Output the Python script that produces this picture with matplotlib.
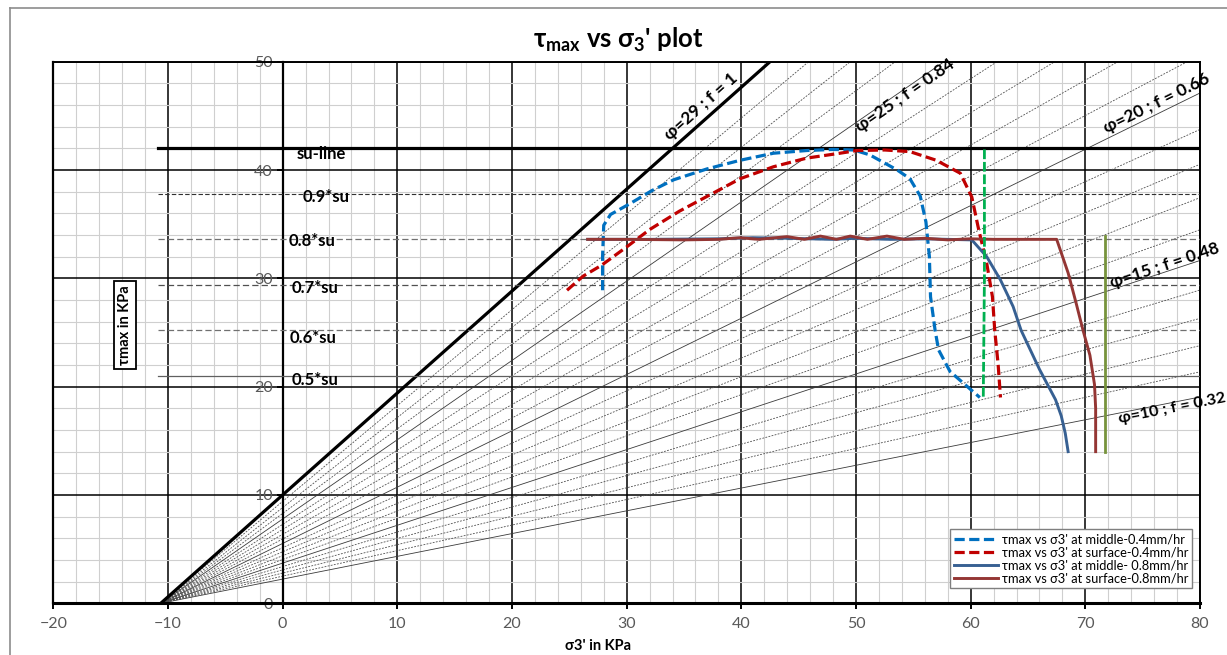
import numpy as np
import matplotlib
matplotlib.use("Agg")
import matplotlib.pyplot as plt
from matplotlib.lines import Line2D

plt.rcParams['font.family'] = ['Lato', 'DejaVu Sans']
plt.rcParams['mathtext.fontset'] = 'custom'
plt.rcParams['mathtext.rm'] = 'Lato'
plt.rcParams['mathtext.bf'] = 'Lato:bold'

# ---------------- data ----------------
su = 42.0
su_fractions = [1.0, 0.9, 0.8, 0.7, 0.6, 0.5]
su_labels = ["su-line", "0.9*su", "0.8*su", "0.7*su", "0.6*su", "0.5*su"]

# friction-angle fan (degrees) and apparent-cohesion intercept on the sigma axis
phi_values = list(range(10, 30))
fan_origin = -10.63
phi_labels = {29: "φ=29 ; f = 1", 25: "φ=25 ; f = 0.84", 20: "φ=20 ; f = 0.66",
              15: "φ=15 ; f = 0.48", 10: "φ=10 ; f = 0.32"}

# tau_max vs sigma3' at middle, 0.4 mm/hr
mid04_x = [27.9, 27.9, 28.0, 28.6, 30.3, 32.2, 34.1, 37.0, 39.9, 42.8, 45.7, 48.0,
           49.8, 51.2, 52.4, 53.6, 54.7, 55.6, 56.1, 56.4, 56.5, 56.9, 57.2, 58.2, 59.5, 60.8]
mid04_y = [28.9, 32.0, 34.9, 35.9, 36.9, 38.1, 39.1, 40.1, 40.9, 41.55, 41.8, 41.9,
           41.85, 41.4, 40.7, 40.0, 39.2, 37.6, 35.2, 32.0, 28.3, 25.2, 23.4, 21.4, 20.2, 19.0]

# tau_max vs sigma3' at surface, 0.4 mm/hr
sur04_x = [24.8, 26.2, 27.8, 30.0, 32.0, 34.6, 37.6, 39.9, 42.8, 45.7, 48.6, 50.1,
           52.5, 54.7, 57.0, 59.1, 60.1, 60.7, 61.4, 61.9, 62.1, 62.4, 62.6]
sur04_y = [28.9, 30.2, 31.2, 32.9, 34.5, 36.2, 37.9, 39.2, 40.3, 41.1, 41.55, 41.8,
           41.85, 41.7, 40.9, 39.7, 37.5, 34.5, 31.4, 28.3, 25.2, 22.0, 19.0]

# tau_max vs sigma3' at middle, 0.8 mm/hr
mid08_x = [26.6, 32.0, 38.0, 41.0, 44.0, 48.0, 50.0, 53.0, 56.0, 58.0, 60.1, 61.4,
           62.6, 63.7, 64.4, 65.2, 66.0, 66.8, 67.4, 67.9, 68.25, 68.5]
mid08_y = [33.6, 33.6, 33.65, 33.75, 33.7, 33.6, 33.7, 33.6, 33.65, 33.6, 33.55, 32.0,
           29.85, 27.4, 25.2, 23.4, 21.6, 20.0, 18.8, 17.3, 15.7, 14.0]

# tau_max vs sigma3' at surface, 0.8 mm/hr
sur08_x = [26.6, 30.0, 35.0, 38.0, 39.9, 41.5, 44.0, 45.5, 46.9, 48.3, 49.5, 51.0,
           52.7, 54.2, 56.0, 58.0, 60.0, 62.0, 64.0, 66.0, 67.5, 68.5, 69.2, 69.8,
           70.4, 70.8, 70.9, 70.9]
sur08_y = [33.6, 33.6, 33.55, 33.6, 33.75, 33.6, 33.85, 33.6, 33.9, 33.6, 33.9, 33.6,
           33.9, 33.6, 33.7, 33.55, 33.65, 33.6, 33.6, 33.6, 33.6, 30.5, 27.7, 25.2,
           22.9, 20.2, 18.0, 14.0]

# vertical marker lines
green_x = [61.2, 61.2, 61.1]
green_y = [41.9, 30.0, 19.0]
olive_x = [71.7, 71.7]
olive_y = [33.9, 13.95]

series_labels = ["τmax vs σ3' at middle-0.4mm/hr", "τmax vs σ3' at surface-0.4mm/hr",
                 "τmax vs σ3' at middle- 0.8mm/hr", "τmax vs σ3' at surface-0.8mm/hr"]

x_ticks = list(range(-20, 81, 10))
y_ticks = list(range(0, 51, 10))

# ---------------- figure ----------------
W, H = 1227, 655
fig = plt.figure(figsize=(W / 100, H / 100), dpi=100)
ax = fig.add_axes([53.3 / W, (H - 603.3) / H, (1200 - 53.3) / W, (603.3 - 61.7) / H])
ax.set_xlim(-20, 80)
ax.set_ylim(0, 50)

# outer chart-area frame
fig.add_artist(Line2D([10 / W, 10 / W], [0, 1 - 8 / H], color='#8c8c8c', lw=1.2))
fig.add_artist(Line2D([10 / W, 1], [1 - 8 / H, 1 - 8 / H], color='#8c8c8c', lw=1.2))

# grid
ax.set_xticks(x_ticks)
ax.set_yticks(y_ticks)
ax.set_xticks(np.arange(-20, 81, 2), minor=True)
ax.set_yticks(np.arange(0, 51, 2), minor=True)
ax.set_axisbelow(True)
ax.grid(which='minor', color='#cfcfcf', lw=0.8)
ax.grid(which='major', color='black', lw=1.1)
ax.axvline(-20, color='black', lw=1.6, clip_on=False, zorder=1)

ax.spines['left'].set_position(('data', 0))
ax.spines['left'].set_linewidth(1.6)
ax.spines['bottom'].set_linewidth(2.2)
ax.spines['top'].set_linewidth(1.4)
ax.spines['right'].set_linewidth(1.4)
ax.tick_params(which='minor', length=0)
ax.tick_params(which='major', direction='out', length=4, width=1.4, colors='black',
               labelcolor='#595959', labelsize=11.5)
ax.tick_params(axis='x', pad=6)
ax.tick_params(axis='y', pad=3)

# friction-angle fan
xs = np.array([fan_origin, 80.0])
for phi in phi_values:
    s = np.sin(np.radians(phi))
    slope = s / (1 - s)
    ys = slope * (xs - fan_origin)
    if phi == 29:
        ax.plot(xs, ys, color='black', lw=2.3, zorder=3)
    elif phi % 5 == 0:
        ax.plot(xs, ys, color='#3a3a3a', lw=0.6, zorder=2)
    else:
        ax.plot(xs, ys, color='#505050', lw=0.6, dashes=(2.2, 1.6), zorder=2)

label_pos = {29: (36.5, 45.9), 25: (54.3, 46.9), 20: (76.2, 46.2), 15: (76.9, 31.2), 10: (77.55, 17.95)}
label_size = {29: 12.5, 25: 12.5, 20: 12.5, 15: 12.3, 10: 11.8}
for phi, txt in phi_labels.items():
    s = np.sin(np.radians(phi))
    ang = np.degrees(np.arctan(s / (1 - s)))
    px, py = label_pos[phi]
    ax.text(px, py, txt, rotation=ang, transform_rotates_text=True, rotation_mode='anchor',
            ha='center', va='center', fontsize=label_size[phi], fontweight='bold', zorder=6,
            clip_on=False)

# undrained-strength reference lines
line_x0 = -10.85
su_styles = {1.0: dict(color='black', lw=2.3),
             0.9: dict(color='#303030', lw=0.8, dashes=(4, 2)),
             0.8: dict(color='#707070', lw=0.9, dashes=(5, 2.5)),
             0.7: dict(color='#505050', lw=0.9, dashes=(5, 2.5)),
             0.6: dict(color='#707070', lw=0.9, dashes=(5, 2.5)),
             0.5: dict(color='#606060', lw=0.9)}
label_offsets = {1.0: (1.2, -0.5), 0.9: (1.7, -0.3), 0.8: (0.5, -0.15), 0.7: (0.8, -0.3),
                 0.6: (0.65, -0.7), 0.5: (0.8, -0.4)}
for frac, lab in zip(su_fractions, su_labels):
    yv = frac * su
    ax.plot([line_x0, 80], [yv, yv], zorder=3, **su_styles[frac])
    dx, dy = label_offsets[frac]
    ax.text(dx, yv + dy, lab, ha='left', va='center', fontsize=12, fontweight='bold', zorder=6)

# measured paths
l1, = ax.plot(mid04_x, mid04_y, color='#0070C0', lw=2.3, dashes=(3.2, 1.4), zorder=5)
l2, = ax.plot(sur04_x, sur04_y, color='#C00000', lw=2.3, dashes=(3.2, 1.4), zorder=5)
l3, = ax.plot(mid08_x, mid08_y, color='#376092', lw=2.1, zorder=5)
l4, = ax.plot(sur08_x, sur08_y, color='#943634', lw=2.1, zorder=5)
ax.plot(green_x, green_y, color='#00B050', lw=2.0, dashes=(3.5, 1.0), zorder=5)
ax.plot(olive_x, olive_y, color='#77933C', lw=2.0, zorder=5)

leg = ax.legend([l1, l2, l3, l4], series_labels, loc='lower right',
                bbox_to_anchor=(0.993, 0.028), fontsize=9.3, frameon=True, fancybox=False,
                edgecolor='#7f7f7f', framealpha=1, handlelength=3.4, handletextpad=0.3,
                labelspacing=0.08, borderpad=0.3, borderaxespad=0)
leg.get_frame().set_linewidth(1.0)
leg.set_zorder(10)

# title and axis labels
fig.text(618 / W, 1 - 40 / H, r"τ$_{\mathbf{max}}$ vs σ$_{\mathbf{3}}$' plot", ha='center', va='center',
         fontsize=18.5, fontweight='bold')
fig.text(598 / W, 1 - 646 / H, "σ3' in KPa", ha='center', va='center', fontsize=10.5,
         fontweight='bold')
ax.text(-13.75, 25.7, "τmax in KPa", rotation=90, ha='center', va='center', fontsize=10.5,
        fontweight='bold', zorder=6,
        bbox=dict(boxstyle='square,pad=0.3', facecolor='white', edgecolor='black', lw=1.3))

fig.savefig("out.png", dpi=100)
